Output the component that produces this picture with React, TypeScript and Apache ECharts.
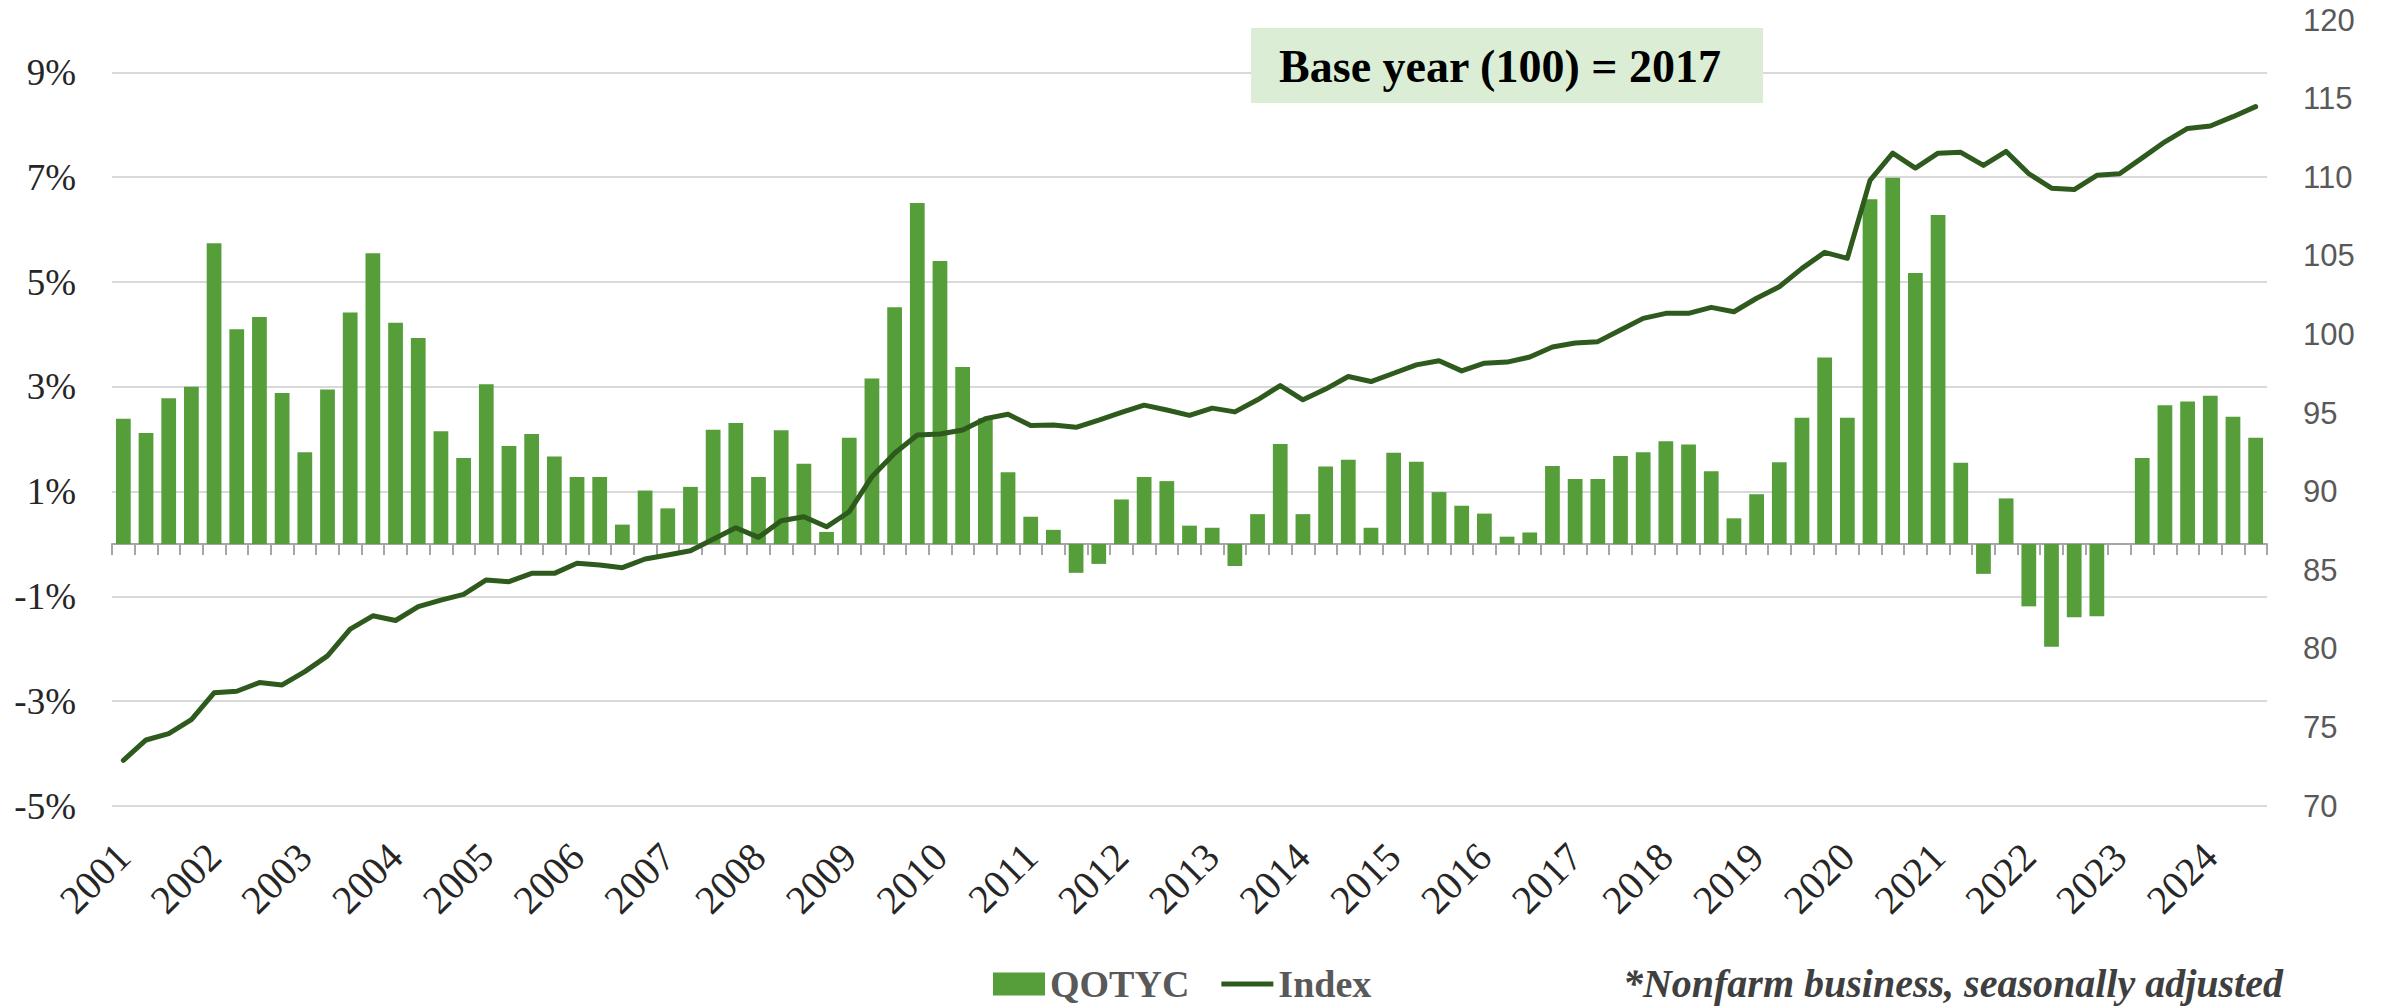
import React, { useEffect, useRef } from 'react';
import * as echarts from 'echarts';

const years = ['2001','2002','2003','2004','2005','2006','2007','2008','2009','2010','2011','2012','2013','2014','2015','2016','2017','2018','2019','2020','2021','2022','2023','2024'];
const quarterNames = ['Q1', 'Q2', 'Q3', 'Q4'];
const quarterCount = 95; // 2001 Q1 .. 2024 Q3
const categories = years.flatMap((y) => quarterNames.map((q) => `${y} ${q}`)).slice(0, quarterCount);

// Quarter-over-the-year change, %
const qotyc = [
  2.39, 2.12, 2.78, 3.0,
  5.74, 4.1, 4.33, 2.88,
  1.75, 2.95, 4.42, 5.55,
  4.22, 3.93, 2.15, 1.64,
  3.05, 1.87, 2.1, 1.67,
  1.28, 1.28, 0.37, 1.02,
  0.68, 1.09, 2.18, 2.31,
  1.28, 2.17, 1.53, 0.23,
  2.03, 3.16, 4.52, 6.51,
  5.4, 3.38, 2.4, 1.37,
  0.52, 0.27, -0.55, -0.38,
  0.85, 1.28, 1.2, 0.35,
  0.31, -0.42, 0.57, 1.91,
  0.57, 1.48, 1.61, 0.31,
  1.74, 1.57, 0.99, 0.73,
  0.58, 0.14, 0.22, 1.49,
  1.24, 1.24, 1.68, 1.75,
  1.96, 1.9, 1.39, 0.49,
  0.95, 1.56, 2.41, 3.56,
  2.41, 6.58, 6.99, 5.17,
  6.28, 1.55, -0.57, 0.87,
  -1.19, -1.96, -1.4, -1.38,
  0.0, 1.64, 2.65,
  2.72, 2.83, 2.43, 2.03,
];

// Index, 2017 = 100
const indexValues = [
  72.9, 74.2, 74.6, 75.5,
  77.2, 77.3, 77.85, 77.7,
  78.55, 79.55, 81.25, 82.1,
  81.8, 82.68, 83.1, 83.46,
  84.38, 84.27, 84.8, 84.8,
  85.44, 85.33, 85.16, 85.71,
  85.97, 86.24, 86.97, 87.7,
  87.09, 88.15, 88.4, 87.76,
  88.72, 90.95, 92.44, 93.6,
  93.66, 93.92, 94.64, 94.92,
  94.2, 94.24, 94.09, 94.55,
  95.04, 95.5, 95.19, 94.85,
  95.31, 95.07, 95.84, 96.74,
  95.84, 96.52, 97.32, 97.0,
  97.53, 98.06, 98.32, 97.68,
  98.17, 98.24, 98.56, 99.2,
  99.45, 99.54, 100.28, 101.02,
  101.34, 101.34, 101.72, 101.44,
  102.3, 103.03, 104.2, 105.22,
  104.84, 109.8, 111.53, 110.58,
  111.53, 111.58, 110.75, 111.64,
  110.22, 109.3, 109.21, 110.12,
  110.22, 111.23, 112.25,
  113.1, 113.26, 113.85, 114.49,
];

const leftTicks = [-5, -3, -1, 1, 3, 5, 7, 9];
const leftMin = -5;
const leftMax = 10;
const rightMin = 70;
const rightMax = 120;
const rightInterval = 5;

const SERIF = '"Liberation Serif", "Times New Roman", serif';
const SANS = '"Liberation Sans", Arial, sans-serif';
const LINE_COLOR = '#2E5A1D';
const BAR_COLOR = '#559E3A';

export default function App() {
  const ref = useRef<HTMLDivElement>(null);

  useEffect(() => {
    if (!ref.current) return;
    const chart = echarts.init(ref.current, undefined, { renderer: 'svg' });
    const option: any = {
      animation: false,
      backgroundColor: '#ffffff',
      grid: { left: 112, right: 119, top: 20, bottom: 200, containLabel: false },
      xAxis: [
        {
          type: 'category',
          data: categories,
          boundaryGap: true,
          position: 'bottom',
          axisLine: { show: true, onZero: true, onZeroAxisIndex: 0, lineStyle: { color: '#A6A6A6', width: 2 } },
          axisTick: { show: true, interval: 0, length: 11, lineStyle: { color: '#A6A6A6', width: 2 } },
          axisLabel: { show: false },
          splitLine: { show: false },
        },
        {
          type: 'category',
          data: categories,
          boundaryGap: true,
          position: 'bottom',
          axisLine: { show: false, onZero: false },
          axisTick: { show: false },
          splitLine: { show: false },
          axisLabel: {
            show: true,
            interval: 3,
            rotate: 45,
            margin: 44,
            formatter: (v: string) => v.slice(0, 4),
            fontFamily: SERIF,
            fontSize: 40,
            color: '#262626',
          },
        },
      ],
      yAxis: [
        {
          type: 'value',
          min: leftMin,
          max: leftMax,
          interval: 1,
          position: 'left',
          axisLine: { show: false },
          axisTick: { show: false },
          splitLine: { show: false },
          axisLabel: {
            formatter: (v: number) => (leftTicks.includes(v) ? `${v}%` : ''),
            margin: 36,
            fontFamily: SERIF,
            fontSize: 37,
            color: '#262626',
          },
        },
        {
          type: 'value',
          min: rightMin,
          max: rightMax,
          interval: rightInterval,
          position: 'right',
          axisLine: { show: false },
          axisTick: { show: false },
          splitLine: { show: false },
          axisLabel: {
            margin: 36,
            fontFamily: SANS,
            fontSize: 31,
            color: '#595959',
          },
        },
      ],
      legend: {
        left: 988,
        top: 960,
        itemWidth: 52,
        itemHeight: 23,
        itemGap: 32,
        selectedMode: false,
        textStyle: { fontFamily: SERIF, fontSize: 38, fontWeight: 'bold', color: '#595959' },
        data: [
          { name: 'QOTYC', icon: 'rect' },
          { name: 'Index', icon: 'path://M0,0L52,0L52,5L0,5Z' },
        ],
      },
      series: [
        {
          name: 'QOTYC',
          type: 'bar',
          xAxisIndex: 0,
          yAxisIndex: 0,
          data: qotyc,
          barCategoryGap: '35%',
          itemStyle: { color: BAR_COLOR },
          z: 2,
          markLine: {
            silent: true,
            symbol: 'none',
            z: 1,
            label: { show: false },
            emphasis: { disabled: true },
            lineStyle: { color: '#D9D9D9', width: 2, type: 'solid' },
            data: leftTicks.map((v) => ({ yAxis: v })),
          },
        },
        {
          name: 'Index',
          type: 'line',
          xAxisIndex: 0,
          yAxisIndex: 1,
          data: indexValues,
          symbol: 'none',
          showSymbol: false,
          lineStyle: { color: LINE_COLOR, width: 5, join: 'round', cap: 'round' },
          itemStyle: { color: LINE_COLOR },
          z: 3,
        },
      ],
      graphic: [
        {
          type: 'rect',
          left: 1251,
          top: 28,
          z: 10,
          shape: { width: 512, height: 75 },
          style: { fill: '#DBEED5' },
        },
        {
          type: 'text',
          x: 1500,
          y: 66,
          z: 11,
          style: {
            text: 'Base year (100) = 2017',
            font: `bold 46px ${SERIF}`,
            fill: '#000000',
            align: 'center',
            verticalAlign: 'middle',
            textAlign: 'center',
            textVerticalAlign: 'middle',
          },
        },
        {
          type: 'text',
          x: 2283,
          y: 983,
          z: 11,
          style: {
            text: '*Nonfarm business, seasonally adjusted',
            font: `italic bold 40px ${SERIF}`,
            fill: '#3F3F3F',
            align: 'right',
            verticalAlign: 'middle',
            textAlign: 'right',
            textVerticalAlign: 'middle',
          },
        },
      ],
    };
    chart.setOption(option);
    return () => {
      chart.dispose();
    };
  }, []);

  return (
    <div
      ref={ref}
      style={{ position: 'fixed', left: 0, top: 0, width: '2386px', height: '1006px', background: '#ffffff' }}
    />
  );
}
